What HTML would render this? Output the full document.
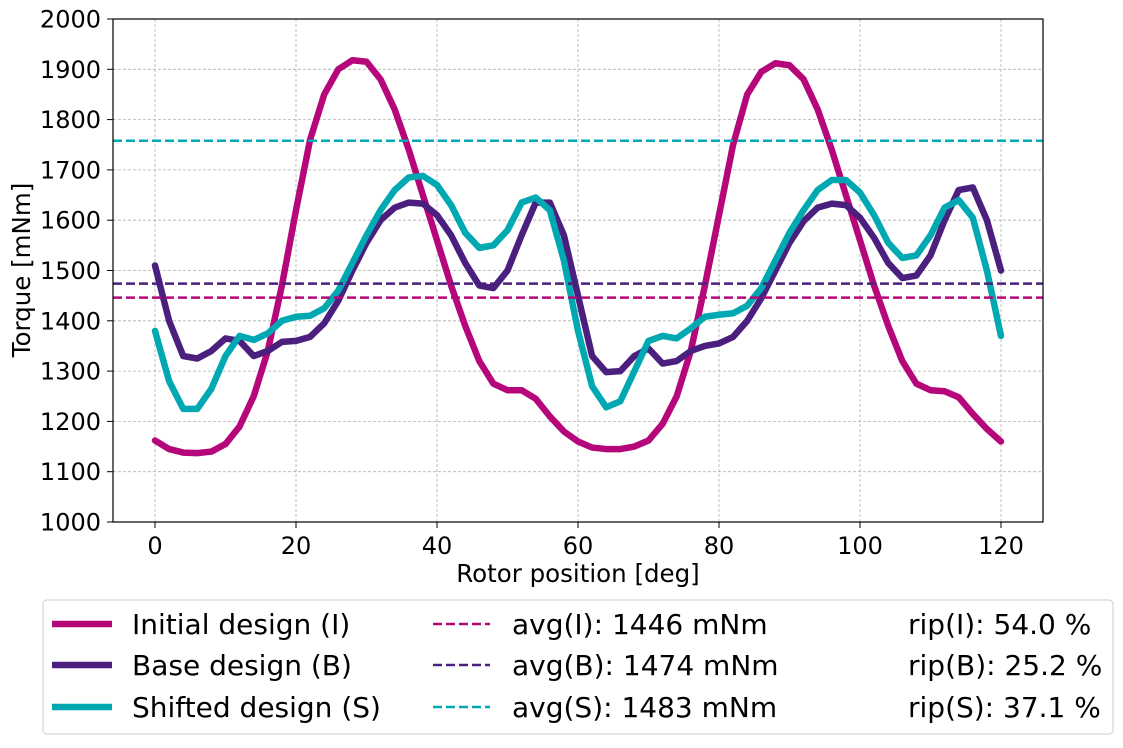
<!DOCTYPE html>
<html><head><meta charset="utf-8">
<style>
body{margin:0;background:#fff;font-family:"DejaVu Sans","Liberation Sans",sans-serif;}
svg text{font-family:"DejaVu Sans","Liberation Sans",sans-serif;fill:#000;}
</style></head>
<body>
<svg id="chart" width="1123" height="744" viewBox="0 0 1123 744">
<rect x="0" y="0" width="1123" height="744" fill="#fff"/>
<g id="grid"></g>
<g id="series"></g>
<rect x="113" y="19" width="930" height="503" fill="none" stroke="#000" stroke-width="1.2"/>
<g id="axes"></g>
<text x="578" y="582" font-size="24.5" text-anchor="middle">Rotor position [deg]</text>
<text x="30" y="270" font-size="24.5" text-anchor="middle" transform="rotate(-90 30 270)">Torque [mNm]</text>
<g id="legend">
<rect x="43" y="600" width="1070" height="134" rx="4" fill="#fff" stroke="#ccc" stroke-width="1"/>
</g>
</svg>
<script>
const positions=[0,2,4,6,8,10,12,14,16,18,20,22,24,26,28,30,32,34,36,38,40,42,44,46,48,50,52,54,56,58,60,62,64,66,68,70,72,74,76,78,80,82,84,86,88,90,92,94,96,98,100,102,104,106,108,110,112,114,116,118,120];
const initialTorque=[1162,1145,1138,1137,1140,1155,1190,1250,1340,1470,1620,1760,1850,1900,1918,1915,1880,1820,1740,1650,1560,1470,1390,1320,1275,1262,1262,1245,1210,1180,1160,1148,1145,1145,1150,1162,1195,1250,1340,1470,1610,1750,1850,1895,1912,1908,1880,1820,1740,1650,1560,1470,1390,1320,1275,1262,1260,1248,1215,1185,1160];
const baseTorque=[1510,1400,1330,1325,1340,1365,1360,1330,1340,1358,1360,1368,1395,1440,1500,1555,1600,1625,1635,1633,1610,1570,1515,1470,1465,1500,1570,1635,1635,1570,1450,1330,1298,1300,1330,1345,1315,1320,1340,1350,1355,1368,1400,1445,1500,1555,1598,1625,1633,1630,1605,1565,1515,1485,1490,1530,1600,1660,1665,1600,1500];
const shiftedTorque=[1380,1280,1225,1225,1265,1330,1370,1362,1375,1400,1408,1410,1425,1460,1515,1570,1620,1660,1685,1688,1670,1630,1575,1545,1550,1580,1635,1645,1620,1520,1380,1270,1228,1240,1300,1360,1370,1365,1385,1408,1412,1415,1430,1465,1520,1575,1620,1660,1680,1680,1655,1610,1555,1525,1530,1570,1625,1640,1605,1500,1370];
const avgLines=[1446,1474,1758];
const xTicks=[0,20,40,60,80,100,120];
const yTicks=[1000,1100,1200,1300,1400,1500,1600,1700,1800,1900,2000];
const seriesLabels=["Initial design (I)","Base design (B)","Shifted design (S)"];
const avgLabels=["avg(I): 1446 mNm","avg(B): 1474 mNm","avg(S): 1483 mNm"];
const ripLabels=["rip(I): 54.0 %","rip(B): 25.2 %","rip(S): 37.1 %"];
const colors=["#b5077a","#4b1f7e","#00a9b1"];
const NS="http://www.w3.org/2000/svg";
const xs=v=>155+v*(1001-155)/120;
const ys=v=>522-(v-1000)*503/1000;
function mk(tag,attrs,parent){const e=document.createElementNS(NS,tag);for(const k in attrs)e.setAttribute(k,attrs[k]);parent.appendChild(e);return e;}
const grid=document.getElementById('grid'),axes=document.getElementById('axes'),ser=document.getElementById('series'),leg=document.getElementById('legend');
xTicks.forEach(t=>{
 const g=mk('line',{x1:xs(t),x2:xs(t),y1:19,y2:522,stroke:'#b0b0b0','stroke-width':0.8,'stroke-dasharray':'3,2'},grid);
 
 
 mk('line',{x1:xs(t),x2:xs(t),y1:522,y2:528,stroke:'#000','stroke-width':1},axes);
 const tx=mk('text',{x:xs(t),y:554,'font-size':24,'text-anchor':'middle'},axes);tx.textContent=t;
 
 
});
yTicks.forEach(t=>{
 const g=mk('line',{x1:113,x2:1043,y1:ys(t),y2:ys(t),stroke:'#b0b0b0','stroke-width':0.8,'stroke-dasharray':'3,2'},grid);
 
 
 mk('line',{x1:107,x2:113,y1:ys(t),y2:ys(t),stroke:'#000','stroke-width':1},axes);
 const tx=mk('text',{x:101,y:ys(t)+8.5,'font-size':24,'text-anchor':'end'},axes);tx.textContent=t;
 
 
});
[initialTorque,baseTorque,shiftedTorque].forEach((arr,i)=>{
 const p=mk('polyline',{points:arr.map((v,j)=>xs(positions[j])+','+ys(v)).join(' '),fill:'none',stroke:colors[i],'stroke-width':6.5,'stroke-linejoin':'round','stroke-linecap':'round'},ser);
 
 
});
avgLines.forEach((v,i)=>{
 const l=mk('line',{x1:113,x2:1043,y1:ys(v),y2:ys(v),stroke:colors[i],'stroke-width':2.5,'stroke-dasharray':'9,4'},ser);
 
 
});
[624,665,707].forEach((y,i)=>{
 mk('line',{x1:52,x2:112,y1:y,y2:y,stroke:colors[i],'stroke-width':6.5},leg);
 const t1=mk('text',{x:132,y:y+10,'font-size':28},leg);t1.textContent=seriesLabels[i];
 
 
 mk('line',{x1:433,x2:490,y1:y,y2:y,stroke:colors[i],'stroke-width':2.5,'stroke-dasharray':'9,4'},leg);
 const t2=mk('text',{x:512,y:y+10,'font-size':28},leg);t2.textContent=avgLabels[i];
 
 
 const t3=mk('text',{x:908,y:y+10,'font-size':28},leg);t3.textContent=ripLabels[i];
 
 
});
</script>
</body></html>
